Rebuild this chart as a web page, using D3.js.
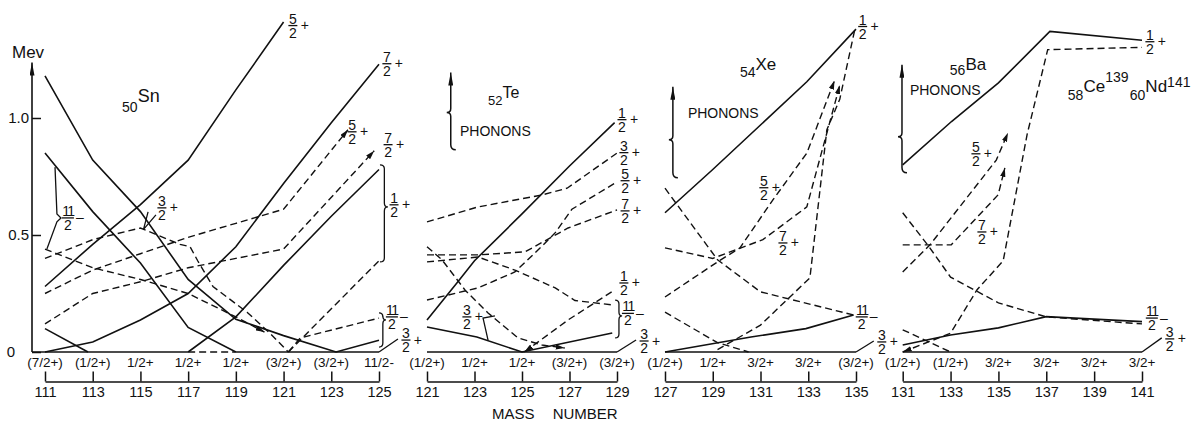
<!DOCTYPE html>
<html>
<head>
<meta charset="utf-8">
<script src="https://cdn.jsdelivr.net/npm/d3@7"></script>
<style>
body { margin: 0; background: #fff; }
text { font-family: "Liberation Sans", Arial, sans-serif; fill: #111; }
.solid { fill: none; stroke: #111; stroke-width: 1.6; }
.dashed { fill: none; stroke: #111; stroke-width: 1.4; stroke-dasharray: 7 4; }
.thin { fill: none; stroke: #111; stroke-width: 1.3; }
</style>
</head>
<body>
<svg id="chart"></svg>
<script>
// ---- mass numbers and ground state spins ----
const snMass = [111, 113, 115, 117, 119, 121, 123, 125];
const snSpin = ['(7/2+)', '(1/2+)', '1/2+', '1/2+', '1/2+', '(3/2+)', '(3/2+)', '11/2-'];
const teMass = [121, 123, 125, 127, 129];
const teSpin = ['(1/2+)', '1/2+', '1/2+', '(3/2+)', '(3/2+)'];
const xeMass = [127, 129, 131, 133, 135];
const xeSpin = ['(1/2+)', '1/2+', '3/2+', '3/2+', '(3/2+)'];
const baMass = [131, 133, 135, 137, 139, 141];
const baSpin = ['(1/2+)', '(1/2+)', '3/2+', '3/2+', '3/2+', '3/2+'];

// ---- level energies [mass number, MeV] ----
// Sn
const snS1 = [[111, 1.18], [113, 0.82], [115, 0.60], [117, 0.31], [119, 0.14], [121, 0.07], [123.2, 0], [125, 0.05]];
const snS2 = [[111, 0.85], [113, 0.60], [115, 0.38], [117, 0.105], [119, 0]];
const snS3 = [[111, 0.28], [113, 0.46], [115, 0.63], [117, 0.82], [119, 1.12], [121, 1.41]];
const snS4 = [[111, 0], [113, 0.043], [115, 0.137], [117, 0.25], [119, 0.45], [121, 0.72], [123, 0.98], [125, 1.23]];
const snS5 = [[117, 0], [119, 0.15], [121, 0.37], [123, 0.58], [125, 0.78]];
const snS6 = [[111, 0.10], [112.8, 0]];
const snD1 = [[111, 0.25], [113, 0.35], [115, 0.42], [117, 0.49], [119, 0.55], [121, 0.61], [123.7, 0.95]];
const snD2 = [[111, 0.12], [113, 0.25], [115, 0.30], [117, 0.36], [119, 0.40], [121, 0.44], [124.8, 0.86]];
const snD3 = [[111, 0.40], [113, 0.48], [115, 0.53], [116.66, 0.46], [117.08, 0.45], [117.4, 0.39], [118.04, 0.28], [119.47, 0.17], [120.43, 0.08], [121.2, 0]];
const snD4 = [[111, 0.44], [113, 0.36], [115, 0.31], [117, 0.25], [119, 0.15], [120.2, 0.085]];
const snD5 = [[117, 0], [119, 0]];
const snD6 = [[121.2, 0], [125, 0.39]];
const snD7 = [[121.2, 0], [121.7, 0.06], [125, 0.145]];
// Te
const teS1 = [[121, 0.137], [122.3, 0.30], [123, 0.39], [125, 0.59], [127, 0.795], [128.9, 0.98]];
const teS2 = [[121, 0.107], [123.1, 0.064], [125, 0], [128.8, 0.081]];
const teD1 = [[121, 0.556], [123.15, 0.62], [125.8, 0.67], [126.9, 0.70], [129, 0.85]];
const teD2 = [[121, 0.222], [123.15, 0.274], [124.7, 0.342], [125.9, 0.458], [126.4, 0.51], [127.1, 0.61], [129, 0.727]];
const teD3 = [[121, 0.415], [123.15, 0.415], [125.13, 0.428], [126.94, 0.53], [129, 0.607]];
const teD4 = [[121, 0.385], [123.15, 0.406], [124.7, 0.35], [126.4, 0.274], [127.23, 0.22], [128.9, 0.20]];
const teD5 = [[121, 0.45], [121.63, 0.394], [122.6, 0.265], [123.57, 0.167], [124.83, 0.06], [125.84, 0.03], [126.8, 0.017]];
const teD6 = [[125.1, 0], [126.94, 0.137], [128.9, 0.265]];
// Xe
const xeS1 = [[127, 0.595], [129, 0.78], [131, 0.97], [132.94, 1.155], [135, 1.38]];
const xeS2 = [[127, 0], [130.6, 0.064], [132.9, 0.10], [134.9, 0.158]];
const xeD1 = [[127, 0.70], [129.2, 0.394], [131, 0.257], [134.9, 0.158]];
const xeD2 = [[127, 0.445], [129, 0.40], [131.1, 0.48], [132.94, 0.62], [134.32, 1.14]];
const xeD3 = [[127, 0.235], [129.2, 0.385], [130.14, 0.445], [131.52, 0.65], [132.94, 0.85], [134.1, 1.16]];
const xeD4 = [[127, 0.17], [129.2, 0.04], [130.5, 0]];
const xeD5 = [[129.2, 0.01], [131, 0.115], [133.07, 0.317], [133.78, 0.95], [134.32, 1.08], [134.95, 1.378]];
// Ba
const baS1 = [[131, 0.80], [133.04, 0.985], [135, 1.15], [137.15, 1.37], [141, 1.332]];
const baS2 = [[131, 0.03], [133, 0.073], [135, 0.103], [137, 0.151], [141, 0.13]];
const baD1 = [[131, 0], [133, 0.08], [134.1, 0.265], [135.2, 0.39], [136.2, 0.93], [137.06, 1.292], [141, 1.302]];
const baD2 = [[131, 0.595], [132.1, 0.45], [133, 0.32], [135, 0.21], [137, 0.15], [141, 0.12]];
const baD3 = [[131, 0.342], [132.14, 0.458], [134.91, 0.82], [135.4, 0.937]];
const baD4 = [[131, 0.458], [133.03, 0.458], [134.99, 0.672], [135.27, 0.787]];
const baD6 = [[131, 0.095], [133, 0]];

// ---- level labels [mass number, MeV, numerator, parity] ----
const snFracs = [[121.39, 1.395, '5', '+'], [125.33, 1.232, '7', '+'], [123.87, 0.941, '5', '+'], [125.38, 0.886, '7', '+'],
  [125.63, 0.629, '1', '+'], [125.54, 0.150, '11', '-'], [126.13, 0.051, '3', '+'], [115.90, 0.616, '3', '+'], [111.96, 0.573, '11', '-']];
const teFracs = [[129.21, 0.993, '1', '+'], [129.29, 0.852, '3', '+'], [129.34, 0.732, '5', '+'], [129.34, 0.603, '7', '+'],
  [129.29, 0.295, '1', '+'], [129.46, 0.165, '11', '-'], [130.14, 0.047, '3', '+'], [122.68, 0.150, '3', '+']];
const xeFracs = [[135.28, 1.391, '1', '+'], [131.14, 0.702, '5', '+'], [131.94, 0.466, '7', '+'], [135.24, 0.150, '11', '-'], [136.08, 0.043, '3', '+']];
const baFracs = [[141.33, 1.326, '1', '+'], [134.06, 0.847, '5', '+'], [134.31, 0.513, '7', '+'], [141.41, 0.145, '11', '-'], [142.16, 0.056, '3', '+']];

const yTicks = [0, 0.5, 1.0];

const W = 1193, H = 423;
const svg = d3.select('#chart').attr('width', W).attr('height', H);
const defs = svg.append('defs');
defs.append('marker').attr('id', 'arr').attr('viewBox', '0 0 10 6').attr('refX', 10).attr('refY', 3)
  .attr('markerWidth', 9).attr('markerHeight', 5.5).attr('markerUnits', 'userSpaceOnUse').attr('orient', 'auto-start-reverse')
  .append('path').attr('d', 'M0,0L10,3L0,6Z').attr('fill', '#111');
defs.append('marker').attr('id', 'arrL').attr('viewBox', '0 0 13 5').attr('refX', 13).attr('refY', 2.5)
  .attr('markerWidth', 13).attr('markerHeight', 5).attr('markerUnits', 'userSpaceOnUse').attr('orient', 'auto')
  .append('path').attr('d', 'M0,0L13,2.5L0,5Z').attr('fill', '#111');

const y = d3.scaleLinear().domain([0, 1]).range([352, 118]);
const axisX = 32;

// y axis
const yAxis = svg.append('g').attr('transform', `translate(${axisX},0)`)
  .call(d3.axisLeft(y).tickValues(yTicks).tickSizeInner(-9).tickSizeOuter(0).tickPadding(3)
    .tickFormat(d => d === 0 ? '0' : d3.format('.1f')(d)));
yAxis.select('.domain').remove();
yAxis.selectAll('text').attr('font-size', 15).attr('font-family', '"Liberation Sans", Arial, sans-serif')
  .attr('x', d => d === 0 ? -17 : -3);
yAxis.selectAll('line').attr('stroke', '#111').attr('stroke-width', 1.5);
svg.append('line').attr('x1', axisX).attr('x2', axisX).attr('y1', y(0)).attr('y2', y(1.237))
  .attr('stroke', '#111').attr('stroke-width', 1.6).attr('marker-end', 'url(#arrL)');
svg.append('text').attr('x', 12).attr('y', 58).attr('font-size', 17).text('Mev');

// stacked fraction: numerator over 2, with parity sign, as one text element
function frac(g, cx, by, num, sign) {
  const w = num.length > 1 ? 6 : 4.5;
  const t = g.append('text').attr('font-size', 14).attr('text-anchor', 'middle');
  t.append('tspan').attr('x', cx).attr('y', by - 2).attr('letter-spacing', num.length > 1 ? -1.5 : 0).text(num);
  t.append('tspan').attr('x', cx).attr('y', by + 12).text('2');
  t.append('tspan').attr('x', cx + 12).attr('y', by + 4.5).text(sign === '-' ? '\u2013' : '+');
  g.append('line').attr('x1', cx - w).attr('x2', cx + w).attr('y1', by).attr('y2', by).attr('class', 'thin');
}

function iso(g, x, yy, parts) {
  const t = g.append('text').attr('x', x).attr('y', yy);
  parts.forEach(p => t.append('tspan').attr('font-size', p[1]).attr('dy', p[2]).text(p[0]));
}

function braceR(g, xs, a, e1, e2, em, w) {
  const x = xs(a), y1 = y(e1), y2 = y(e2), ym = y(em), m = x + w * 0.55;
  g.append('path').attr('class', 'thin').attr('d',
    `M${x},${y1}Q${m},${y1} ${m},${y1 + 4}L${m},${ym - 4}Q${m},${ym} ${x + w},${ym}` +
    `Q${m},${ym} ${m},${ym + 4}L${m},${y2 - 4}Q${m},${y2} ${x},${y2}`);
}

function phonons(g, xs, a, eTop, eNub, eBot, ta, te) {
  const x = xs(a), yt = y(eTop), yn = y(eNub), yb = y(eBot);
  g.append('path').attr('fill', 'none').attr('stroke', '#111').attr('stroke-width', 1.5)
    .attr('d', `M${x + 5},${yb}Q${x},${yb} ${x},${yb - 5}L${x},${yn + 4}Q${x},${yn} ${x - 4},${yn}Q${x},${yn} ${x},${yn - 4}L${x},${yt}`)
    .attr('marker-end', 'url(#arrL)');
  g.append('text').attr('x', xs(ta)).attr('y', y(te)).attr('font-size', 14).text('PHONONS');
}

const panels = [
  { mass: snMass, spin: snSpin, range: [45, 379], solid: [snS1, snS2, snS3, snS4, snS5, snS6],
    dashed: [snD1, snD2, snD3, snD4, snD5, snD6, snD7], arrowEnd: [snD1, snD2, snD4], arrowStart: [],
    base: [[null, 117], [119, 125]], fracs: snFracs, tail: 6 },
  { mass: teMass, spin: teSpin, range: [427, 617], solid: [teS1, teS2],
    dashed: [teD1, teD2, teD3, teD4, teD5, teD6], arrowEnd: [teD5], arrowStart: [teD6],
    base: [[121, 129]], fracs: teFracs, tail: 6 },
  { mass: xeMass, spin: xeSpin, range: [665, 856], solid: [xeS1, xeS2],
    dashed: [xeD1, xeD2, xeD3, xeD4, xeD5], arrowEnd: [xeD2, xeD3], arrowStart: [],
    base: [[127, 135]], fracs: xeFracs, tail: 4 },
  { mass: baMass, spin: baSpin, range: [902.7, 1142], solid: [baS1, baS2],
    dashed: [baD1, baD2, baD3, baD4, baD6], arrowEnd: [baD3, baD4], arrowStart: [baD1],
    base: [[131, 141]], fracs: baFracs, tail: 4 }
];

panels.forEach((p, pi) => {
  const xs = d3.scaleLinear().domain([p.mass[0], p.mass[p.mass.length - 1]]).range(p.range);
  const line = d3.line().x(d => xs(d[0])).y(d => y(d[1]));
  const g = svg.append('g');

  p.base.forEach(b => {
    const a0 = b[0] === null ? xs.invert(axisX) : b[0];
    g.append('path').attr('class', 'solid').attr('d', line([[a0, 0], [b[1], 0]]));
  });
  p.solid.forEach(s => g.append('path').attr('class', 'solid').attr('d', line(s)));
  p.dashed.forEach(s => {
    const path = g.append('path').attr('class', 'dashed').attr('d', line(s));
    if (p.arrowEnd.includes(s)) path.attr('marker-end', 'url(#arr)');
    if (p.arrowStart.includes(s)) path.attr('marker-start', 'url(#arr)');
  });

  // mass number axis
  const ax = g.append('g').attr('transform', 'translate(0,381.5)')
    .call(d3.axisBottom(xs).tickValues(p.mass).tickSizeInner(-10).tickSizeOuter(0).tickPadding(5).tickFormat(d3.format('d')));
  ax.attr('font-size', 14.5).attr('font-family', '"Liberation Sans", Arial, sans-serif');
  ax.selectAll('line, path').attr('stroke', '#111').attr('stroke-width', 1.5);
  ax.selectAll('text').attr('fill', '#111');

  // ground-state spins
  g.selectAll('text.spin').data(p.mass).join('text').attr('class', 'spin')
    .attr('x', d => xs(d)).attr('y', 367).attr('text-anchor', 'middle').attr('font-size', 13.5)
    .text((d, i) => p.spin[i]);

  // level labels
  p.fracs.forEach(f => frac(g, xs(f[0]), y(f[1]), f[2], f[3]));
  const t = p.fracs[p.tail];
  g.append('line').attr('class', 'thin').attr('x1', xs(p.mass[p.mass.length - 1])).attr('y1', y(0))
    .attr('x2', xs(t[0]) - 8).attr('y2', y(t[1]) - 1);

  if (pi === 0) {
    iso(g, xs(114.23), y(1.027), [['50', 14, 0], ['Sn', 18, -10]]);
    braceR(g, xs, 125.04, 0.80, 0.385, 0.62, 8);
    braceR(g, xs, 125.0, 0.167, 0.021, 0.137, 7);
    g.append('path').attr('class', 'thin')
      .attr('d', line([[111.42, 0.79], [111.5, 0.59], [111.67, 0.573], [111.5, 0.556], [111.08, 0.44]]));
    g.append('path').attr('class', 'thin')
      .attr('d', line([[115.32, 0.599], [115.13, 0.524], [115.65, 0.586]]));
  } else if (pi === 1) {
    iso(g, xs(123.57), y(1.057), [['52', 13, 0], ['Te', 16, -7]]);
    phonons(g, xs, 122.0, 1.194, 1.023, 0.864, 122.39, 0.924);
    braceR(g, xs, 128.92, 0.222, 0.060, 0.154, 7);
    g.append('path').attr('class', 'thin')
      .attr('d', line([[123.86, 0.154], [123.36, 0.145], [123.57, 0.051]]));
  } else if (pi === 2) {
    iso(g, xs(130.14), y(1.177), [['54', 14, 0], ['Xe', 17, -7]]);
    phonons(g, xs, 127.33, 1.134, 0.907, 0.745, 127.96, 1.001);
  } else {
    iso(g, xs(132.97), y(1.185), [['56', 14, 0], ['Ba', 17, -5]]);
    iso(g, xs(137.90), y(1.078), [['58', 14, 0], ['Ce', 17, -8], ['139', 14, -10]]);
    iso(g, xs(140.49), y(1.078), [['60', 14, 0], ['Nd', 17, -8], ['141', 14, -5]]);
    phonons(g, xs, 130.97, 1.228, 0.920, 0.766, 131.30, 1.100);
  }
});

svg.append('text').attr('x', 492).attr('y', 419).attr('font-size', 15).attr('word-spacing', 14).text('MASS NUMBER');
</script>
</body>
</html>
